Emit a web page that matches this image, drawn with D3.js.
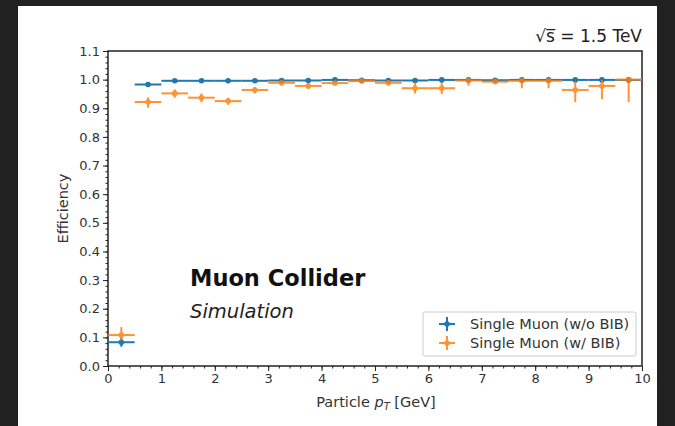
<!DOCTYPE html>
<html>
<head>
<meta charset="utf-8">
<script src="https://cdn.jsdelivr.net/npm/d3@7"></script>
<style>
  html, body { margin: 0; padding: 0; background: #212121; }
  svg { display: block; }
  text { font-family: "DejaVu Sans", sans-serif; }
</style>
</head>
<body>
<svg id="chart" width="675" height="426"></svg>
<script>
// bin centres in pT [GeV], bins are 0.5 GeV wide
var binCenters = [0.25, 0.75, 1.25, 1.75, 2.25, 2.75, 3.25, 3.75, 4.25, 4.75,
                  5.25, 5.75, 6.25, 6.75, 7.25, 7.75, 8.25, 8.75, 9.25, 9.75];
var binHalfWidth = 0.25;

// Single Muon (w/o BIB)
var effNoBIB    = [0.083, 0.983, 0.996, 0.996, 0.996, 0.996, 0.997, 0.997, 0.999, 0.998,
                   0.997, 0.997, 0.999, 0.999, 0.998, 0.999, 0.999, 0.999, 0.999, 0.999];
var errNoBIBLow = [0.016, 0.005, 0.002, 0.002, 0.002, 0.002, 0.002, 0.002, 0.001, 0.002,
                   0.002, 0.002, 0.001, 0.001, 0.002, 0.001, 0.001, 0.001, 0.001, 0.001];
var errNoBIBHigh = [0.016, 0.004, 0.002, 0.002, 0.002, 0.002, 0.002, 0.002, 0.001, 0.001,
                    0.002, 0.002, 0.001, 0.001, 0.001, 0.001, 0.001, 0.001, 0.001, 0.001];

// Single Muon (w/ BIB)
var effBIB     = [0.108, 0.922, 0.952, 0.937, 0.925, 0.964, 0.989, 0.978, 0.988, 0.995,
                  0.989, 0.970, 0.970, 0.997, 0.993, 0.996, 0.996, 0.964, 0.978, 1.000];
var errBIBLow  = [0.018, 0.020, 0.015, 0.016, 0.013, 0.012, 0.008, 0.010, 0.008, 0.005,
                  0.007, 0.018, 0.020, 0.018, 0.006, 0.026, 0.026, 0.042, 0.047, 0.078];
var errBIBHigh = [0.028, 0.016, 0.014, 0.015, 0.012, 0.010, 0.007, 0.009, 0.007, 0.004,
                  0.005, 0.020, 0.020, 0.003, 0.005, 0.004, 0.004, 0.030, 0.020, 0.000];

var xTicks = [0, 1, 2, 3, 4, 5, 6, 7, 8, 9, 10];
var yTicks = [0.0, 0.1, 0.2, 0.3, 0.4, 0.5, 0.6, 0.7, 0.8, 0.9, 1.0, 1.1];

var series = [
    { label: 'Single Muon (w/o BIB)', color: '#1f77b4', opacity: 1,
      y: effNoBIB, lo: errNoBIBLow, hi: errNoBIBHigh },
    { label: 'Single Muon (w/ BIB)', color: '#ff7f0e', opacity: 0.85,
      y: effBIB, lo: errBIBLow, hi: errBIBHigh }
];

var svg = d3.select('#chart');

// white figure area
svg.append('rect')
    .attr('x', 18).attr('y', 6)
    .attr('width', 639).attr('height', 420)
    .attr('fill', '#fff');

var margin = { left: 108, right: 642, top: 51, bottom: 366 };

var x = d3.scaleLinear().domain([0, 10]).range([margin.left, margin.right]);
var y = d3.scaleLinear().domain([0, 1.1]).range([margin.bottom, margin.top]);

// minor ticks
var xMinor = d3.range(0, 10.001, 0.2).map(function(v) { return +v.toFixed(2); });
var yMinor = d3.range(0, 1.1001, 0.02).map(function(v) { return +v.toFixed(2); });

svg.append('g')
    .attr('transform', 'translate(0,' + margin.bottom + ')')
    .call(d3.axisBottom(x).tickValues(xMinor).tickSize(2.5).tickFormat(''))
    .call(function(g) { g.select('.domain').remove(); });

svg.append('g')
    .attr('transform', 'translate(' + margin.left + ',0)')
    .call(d3.axisLeft(y).tickValues(yMinor).tickSize(2.5).tickFormat(''))
    .call(function(g) { g.select('.domain').remove(); });

// major ticks
var xAxis = svg.append('g')
    .attr('transform', 'translate(0,' + margin.bottom + ')')
    .call(d3.axisBottom(x).tickValues(xTicks).tickSize(5).tickPadding(3).tickFormat(d3.format('d')));
xAxis.select('.domain').remove();

var yAxis = svg.append('g')
    .attr('transform', 'translate(' + margin.left + ',0)')
    .call(d3.axisLeft(y).tickValues(yTicks).tickSize(5).tickPadding(3).tickFormat(d3.format('.1f')));
yAxis.select('.domain').remove();

svg.selectAll('.tick text')
    .attr('font-family', '"DejaVu Sans", sans-serif')
    .attr('font-size', 13)
    .attr('fill', '#333');
svg.selectAll('.tick line').attr('stroke', '#222').attr('stroke-width', 1);

// frame
svg.append('rect')
    .attr('x', margin.left).attr('y', margin.top)
    .attr('width', margin.right - margin.left)
    .attr('height', margin.bottom - margin.top)
    .attr('fill', 'none')
    .attr('stroke', '#222')
    .attr('stroke-width', 1.5);

// error bars + markers
series.forEach(function(s) {
    var g = svg.append('g').attr('opacity', s.opacity);
    binCenters.forEach(function(c, i) {
        g.append('line')
            .attr('x1', x(c - binHalfWidth)).attr('x2', x(c + binHalfWidth))
            .attr('y1', y(s.y[i])).attr('y2', y(s.y[i]))
            .attr('stroke', s.color).attr('stroke-width', 2);
        g.append('line')
            .attr('x1', x(c)).attr('x2', x(c))
            .attr('y1', y(s.y[i] - s.lo[i])).attr('y2', y(s.y[i] + s.hi[i]))
            .attr('stroke', s.color).attr('stroke-width', 2);
        g.append('circle')
            .attr('cx', x(c)).attr('cy', y(s.y[i]))
            .attr('r', 2.8)
            .attr('fill', s.color);
    });
});

// axis labels
svg.append('text')
    .attr('transform', 'translate(68,' + ((margin.top + margin.bottom) / 2) + ') rotate(-90)')
    .attr('text-anchor', 'middle')
    .attr('font-size', 14.5)
    .attr('fill', '#333')
    .text('Efficiency');

var xl = svg.append('text')
    .attr('x', 376)
    .attr('y', 407)
    .attr('text-anchor', 'middle')
    .attr('font-size', 14.5)
    .attr('fill', '#333');
xl.append('tspan').text('Particle ');
xl.append('tspan').attr('font-style', 'italic').text('p');
xl.append('tspan').attr('font-style', 'italic').attr('font-size', 10).attr('dy', 3).text('T');
xl.append('tspan').attr('dy', -3).text(' [GeV]');

// title, top right
svg.append('text')
    .attr('x', margin.right).attr('y', 42)
    .attr('text-anchor', 'end')
    .attr('font-size', 17)
    .attr('fill', '#222')
    .text('\u221As\u0305 = 1.5 TeV');

// experiment label
svg.append('text')
    .attr('x', 190).attr('y', 286)
    .attr('font-size', 22.5)
    .attr('font-weight', 'bold')
    .attr('fill', '#111')
    .text('Muon Collider');

svg.append('text')
    .attr('x', 190).attr('y', 318)
    .attr('font-size', 19.5)
    .attr('font-style', 'italic')
    .attr('fill', '#222')
    .text('Simulation');

// legend
var legend = svg.append('g').attr('transform', 'translate(423,312)');
legend.append('rect')
    .attr('width', 213).attr('height', 44)
    .attr('rx', 2)
    .attr('fill', '#fff').attr('fill-opacity', 0.8)
    .attr('stroke', '#ccc');

series.forEach(function(s, i) {
    var row = legend.append('g').attr('transform', 'translate(0,' + (12 + i * 19) + ')');
    var m = row.append('g').attr('opacity', s.opacity);
    m.append('line').attr('x1', 16).attr('x2', 32).attr('y1', 0).attr('y2', 0)
        .attr('stroke', s.color).attr('stroke-width', 2);
    m.append('line').attr('x1', 24).attr('x2', 24).attr('y1', -7).attr('y2', 7)
        .attr('stroke', s.color).attr('stroke-width', 2);
    m.append('circle').attr('cx', 24).attr('cy', 0).attr('r', 2.8).attr('fill', s.color);
    row.append('text')
        .attr('x', 47).attr('y', 5)
        .attr('font-size', 14.5)
        .attr('fill', '#333')
        .text(s.label);
});
</script>
</body>
</html>
